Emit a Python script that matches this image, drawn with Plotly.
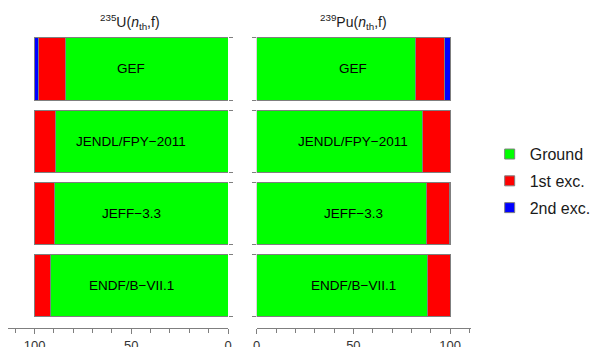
import plotly.graph_objects as go

# Fission-fragment population of ground / excited states per evaluation
datasets = ["ENDF/B−VII.1", "JEFF−3.3", "JENDL/FPY−2011", "GEF"]
states = ["Ground", "1st exc.", "2nd exc."]
state_colors = ["#00ff00", "#ff0000", "#0000ff"]

u235_ground = [91.5, 89.9, 89.4, 83.9]
u235_first = [8.5, 10.1, 10.6, 13.8]
u235_second = [0.0, 0.0, 0.0, 2.3]

pu239_ground = [88.5, 87.8, 85.9, 82.3]
pu239_first = [11.5, 11.9, 14.1, 14.6]
pu239_second = [0.0, 0.3, 0.0, 3.1]

rows = list(range(len(datasets)))
bar_w = 0.86
edge = "#7f7f7f"
font = "Liberation Sans, Arial, sans-serif"

fig = go.Figure()

panels = [
    ("x", "y", [u235_ground, u235_first, u235_second]),
    ("x2", "y2", [pu239_ground, pu239_first, pu239_second]),
]
for xa, ya, series in panels:
    for name, color, vals in zip(states, state_colors, series):
        fig.add_trace(go.Bar(
            x=vals, y=rows, orientation="h", width=bar_w,
            marker=dict(color=color, line=dict(color=edge, width=1)),
            name=name, showlegend=False, xaxis=xa, yaxis=ya,
            hoverinfo="x+name",
        ))

# legend entries
for name, color in zip(states, state_colors):
    fig.add_trace(go.Scatter(
        x=[None], y=[None], mode="markers", name=name, legendgroup=name,
        marker=dict(symbol="square", size=10, color=color,
                    line=dict(color=edge, width=1)),
        xaxis="x2", yaxis="y2",
    ))

# dataset labels inside the bars
for xa, ya in [("x", "y"), ("x2", "y2")]:
    for r, label in zip(rows, datasets):
        fig.add_annotation(x=50, y=r, xref=xa, yref=ya, text=label,
                           showarrow=False,
                           font=dict(family=font, size=13.5, color="#000000"))

titles = [
    (0.218, "<sup>235</sup>U(<i>n</i><sub>th</sub>,f)"),
    (0.594, "<sup>239</sup>Pu(<i>n</i><sub>th</sub>,f)"),
]
for x, t in titles:
    fig.add_annotation(x=x, y=0.937, xref="paper", yref="paper", text=t,
                       showarrow=False, xanchor="center", yanchor="middle",
                       font=dict(family=font, size=14, color="#1a1a1a"))

edges = []
for r in rows:
    edges += [r - bar_w / 2, r + bar_w / 2]

xaxis_common = dict(
    showgrid=False, zeroline=False, showline=True, linecolor=edge,
    linewidth=1, ticks="outside", ticklen=5, tickcolor=edge,
    tickvals=[0, 50, 100], ticktext=["0", "50", "100"],
    minor=dict(tickvals=[10, 20, 30, 40, 60, 70, 80, 90, 110],
               ticks="outside", ticklen=4, tickcolor=edge),
    tickfont=dict(family=font, size=13, color="#333333"),
    automargin=False, fixedrange=True,
)
yaxis_common = dict(
    range=[-0.589, 3.5], showgrid=False, zeroline=False, showline=False,
    tickvals=[], showticklabels=False,
    minor=dict(tickvals=edges, ticks="outside", ticklen=4, tickcolor=edge),
    domain=[0.0548, 0.9052], automargin=False, fixedrange=True,
)

fig.update_layout(
    template="none",
    width=595, height=347,
    margin=dict(l=0, r=0, t=0, b=0, autoexpand=False),
    paper_bgcolor="white", plot_bgcolor="white",
    barmode="stack",
    font=dict(family=font),
    xaxis=dict(xaxis_common, range=[113.5, 0], domain=[0.01412, 0.38319],
               anchor="y"),
    xaxis2=dict(xaxis_common, range=[0, 111], domain=[0.43143, 0.7921],
                anchor="y2"),
    yaxis=dict(yaxis_common, anchor="x", side="right"),
    yaxis2=dict(yaxis_common, anchor="x2", side="left"),
    legend=dict(x=0.823, y=0.478, xanchor="left", yanchor="middle",
                xref="container", yref="container",
                traceorder="grouped", tracegroupgap=3,
                font=dict(family=font, size=16, color="#1a1a1a"),
                bgcolor="rgba(0,0,0,0)", itemwidth=30),
    showlegend=True,
)

fig.write_html("out.html")
